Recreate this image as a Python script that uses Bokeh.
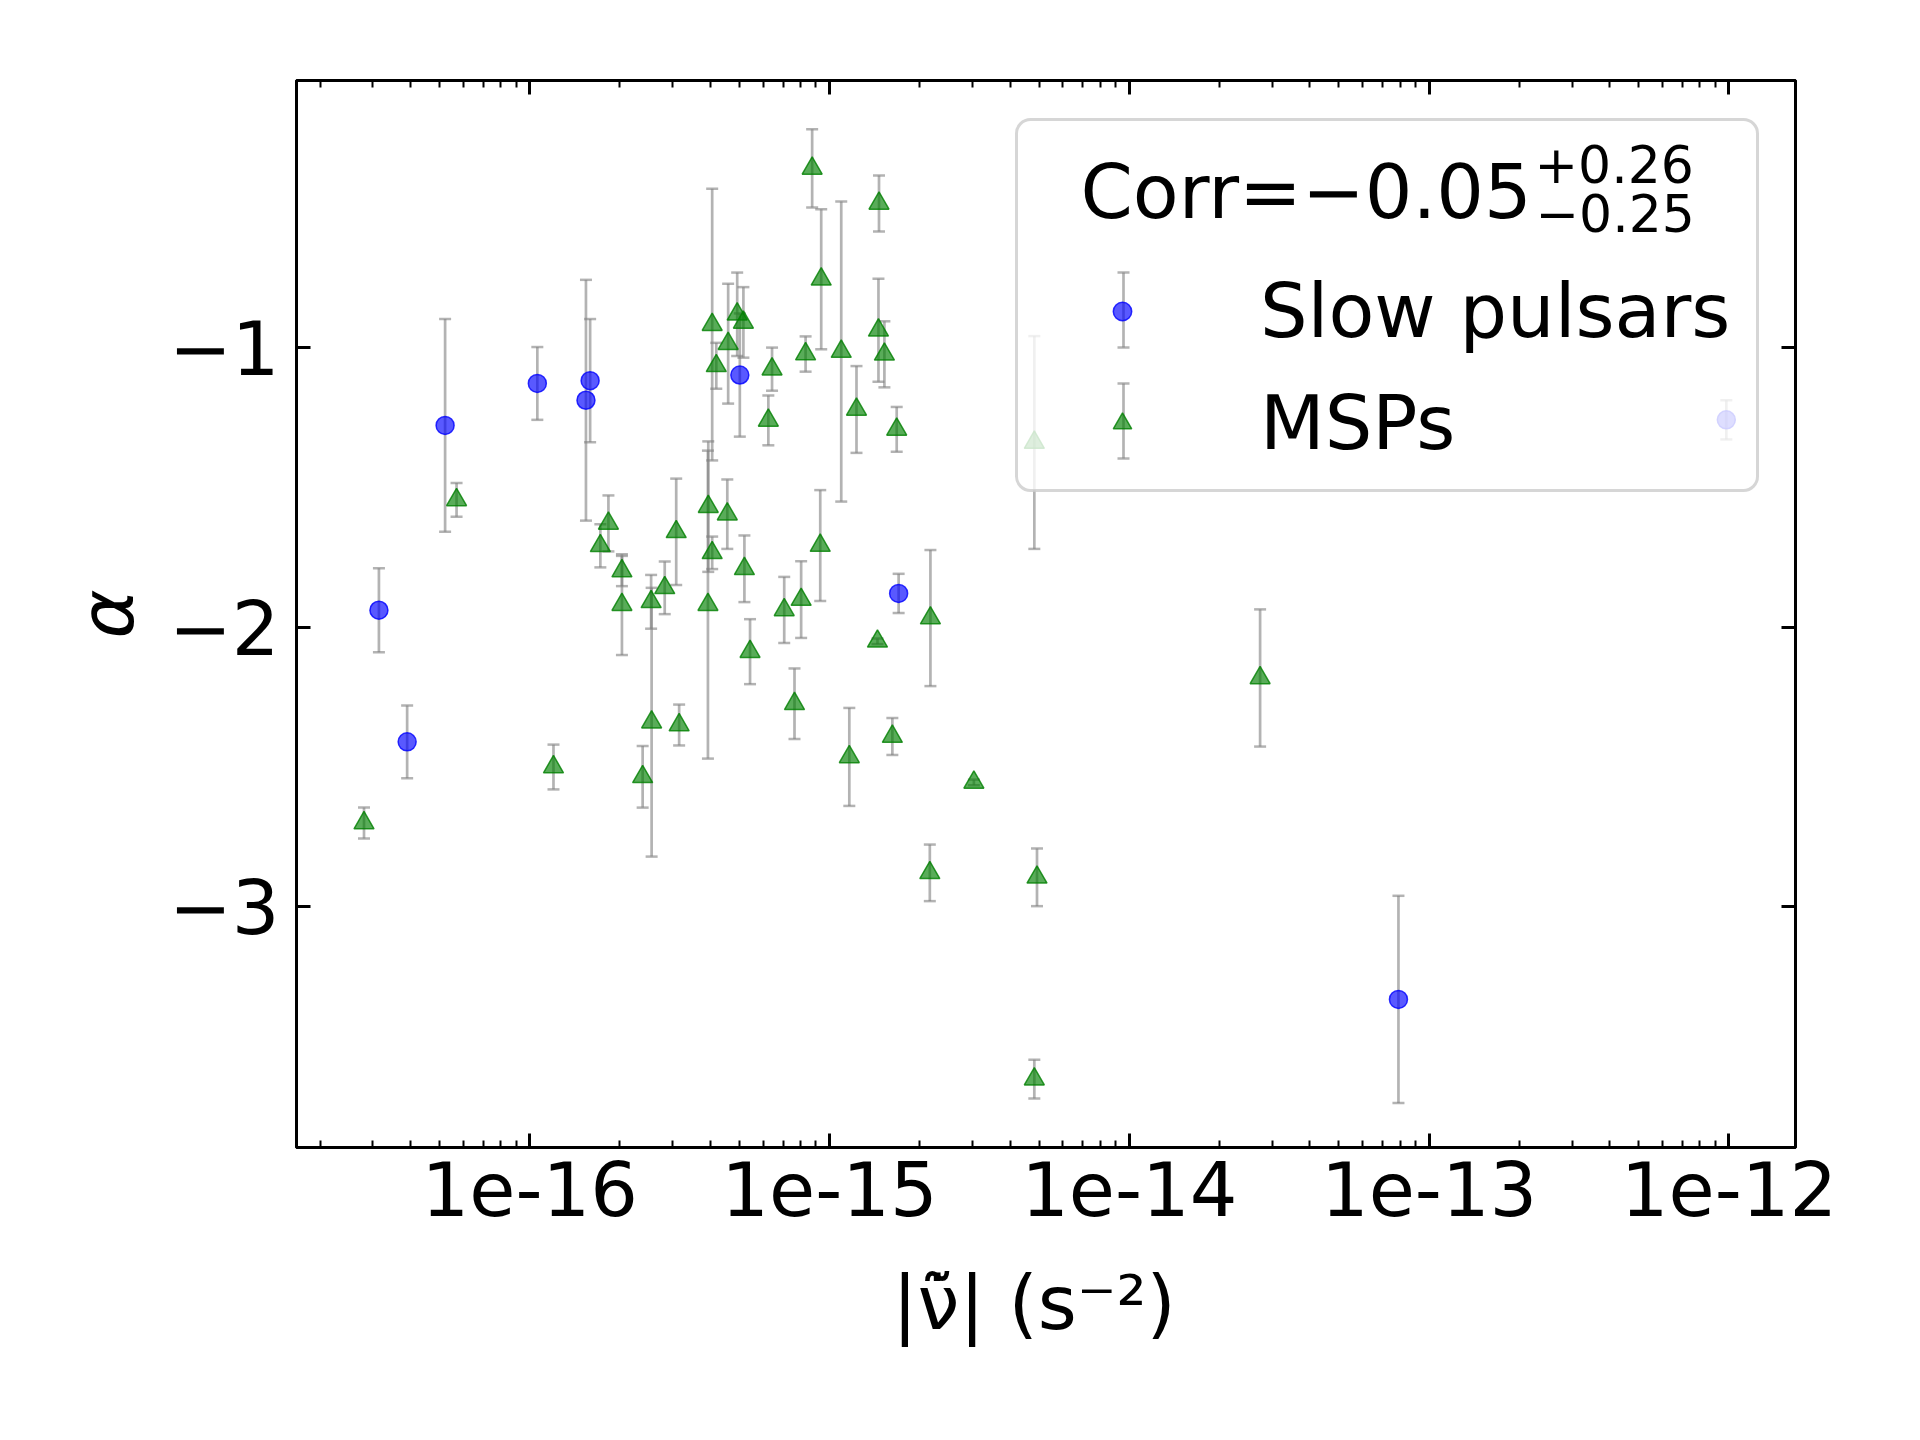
from bokeh.plotting import figure
from bokeh.models import (ColumnDataSource, Range1d, FixedTicker, CustomJSTickFormatter,
                          LogAxis, LinearAxis, Legend, LegendItem, Label, BoxAnnotation,
                          Whisker, TeeHead)
from bokeh.embed import file_html
from bokeh.resources import INLINE

# ---------------- data ----------------
slow_nuddot = [3.14e-17, 3.9e-17, 5.22e-17, 1.06e-16, 1.54e-16, 1.59e-16,
               5.02e-16, 1.70e-15, 7.9e-14, 9.8e-13]
slow_alpha = [-1.94, -2.41, -1.28, -1.13, -1.19, -1.12, -1.10, -1.88, -3.33, -1.26]
slow_err = [0.15, 0.13, 0.38, 0.13, 0.43, 0.22, 0.22, 0.07, 0.37, 0.07]

msp_nuddot = [2.80e-17, 5.70e-17, 1.20e-16, 1.72e-16, 1.83e-16, 2.03e-16, 2.03e-16,
              2.38e-16, 2.54e-16, 2.55e-16, 2.82e-16, 3.08e-16, 3.15e-16, 3.94e-16,
              3.93e-16, 4.06e-16, 4.06e-16, 4.19e-16, 4.59e-16, 4.56e-16, 4.92e-16,
              5.16e-16, 5.20e-16, 5.43e-16, 6.43e-16, 6.25e-16, 7.06e-16, 7.64e-16,
              8.04e-16, 8.32e-16, 8.75e-16, 9.38e-16, 9.31e-16, 1.094e-15, 1.164e-15,
              1.23e-15, 1.456e-15, 1.445e-15, 1.462e-15, 1.524e-15, 1.62e-15, 1.675e-15,
              2.17e-15, 2.16e-15, 3.03e-15, 4.82e-15, 4.92e-15, 4.82e-15, 2.73e-14]
msp_alpha = [-2.70, -1.546, -2.50, -1.71, -1.63, -1.80, -1.92,
             -2.535, -1.91, -2.34, -1.86, -1.66, -2.35, -1.57,
             -1.92, -0.92, -1.735, -1.067, -0.988, -1.597, -0.883,
             -0.912, -1.792, -2.088, -1.079, -1.262, -1.939, -2.274,
             -1.902, -1.025, -0.362, -0.758, -1.709, -1.016, -2.464,
             -1.223, -0.94, -2.051, -0.487, -1.026, -2.391, -1.294,
             -1.968, -2.878, -2.555, -1.341, -2.894, -3.615, -2.182]
msp_err = [0.055, 0.06, 0.08, 0.077, 0.10, 0.054, 0.18,
           0.11, 0.096, 0.48, 0.094, 0.19, 0.073, 0.233,
           0.55, 0.485, 0.058, 0.082, 0.214, 0.124, 0.149,
           0.126, 0.119, 0.116, 0.077, 0.089, 0.118, 0.126,
           0.137, 0.063, 0.14, 0.25, 0.198, 0.536, 0.175,
           0.155, 0.184, 0.01, 0.10, 0.118, 0.066, 0.08,
           0.243, 0.101, 0.01, 0.38, 0.103, 0.069, 0.245]

x_tick_values = [1e-16, 1e-15, 1e-14, 1e-13, 1e-12]
y_tick_values = [-3, -2, -1]
series_names = ["Slow pulsars", "MSPs"]
corr_text = "Corr=\u22120.05"
corr_plus = "+0.26"
corr_minus = "\u22120.25"
x_label = "|\u03bd\u0303\u0307|  (s\u207b\u00b2)"
y_label = "\u03b1"

# ---------------- layout / style ----------------
FONT = "DejaVu Sans"
FS = "75px"
W, H = 1920, 1440
BL, BR, BT, BB = 296, 125, 80, 293
FRAME_W, FRAME_H = W - BL - BR, H - BT - BB
X_LO, X_HI = 10 ** -16.778, 10 ** -11.778
Y_LO, Y_HI = -3.859, -0.048
ERR_COLOR, ERR_ALPHA, ERR_W = "gray", 0.6, 2.7
CAP = 12

p = figure(width=W, height=H, x_axis_type="log",
           x_range=Range1d(X_LO, X_HI), y_range=Range1d(Y_LO, Y_HI),
           output_backend="svg", toolbar_location=None,
           min_border_left=BL, min_border_right=BR, min_border_top=BT, min_border_bottom=BB)
p.xgrid.visible = False
p.ygrid.visible = False
p.outline_line_color = "black"
p.outline_line_width = 3
p.background_fill_color = "white"
p.border_fill_color = "white"

minor_x = [m * 10.0 ** e for e in range(-17, -11) for m in range(2, 10)]
xticker = FixedTicker(ticks=x_tick_values, minor_ticks=minor_x)
yticker = FixedTicker(ticks=y_tick_values, minor_ticks=[])
xfmt = CustomJSTickFormatter(code="return '1e' + Math.round(Math.log10(tick));")
yfmt = CustomJSTickFormatter(code="return tick < 0 ? '\u2212' + Math.abs(tick) : String(tick);")
blank = CustomJSTickFormatter(code="return '';")


def style(ax):
    ax.axis_line_color = "black"
    ax.axis_line_width = 3
    ax.major_tick_line_color = "black"
    ax.minor_tick_line_color = "black"
    ax.major_tick_in = 14
    ax.major_tick_out = 0
    ax.major_tick_line_width = 3
    ax.minor_tick_in = 7
    ax.minor_tick_out = 0
    ax.minor_tick_line_width = 2
    ax.major_label_text_font = FONT
    ax.major_label_text_font_size = FS
    ax.major_label_text_color = "black"
    ax.axis_label_text_font = FONT
    ax.axis_label_text_font_size = FS
    ax.axis_label_text_color = "black"
    ax.axis_label_text_font_style = "normal"


xa = p.xaxis[0]
style(xa)
xa.ticker = xticker
xa.formatter = xfmt
xa.major_label_standoff = 13
xa.axis_label = x_label
xa.axis_label_standoff = 40

ya = p.yaxis[0]
style(ya)
ya.ticker = yticker
ya.formatter = yfmt
ya.major_label_standoff = 17
ya.axis_label = y_label
ya.axis_label_text_font_style = "italic"
ya.axis_label_standoff = 15

top = LogAxis(ticker=xticker, formatter=blank)
style(top)
top.major_label_text_font_size = "0px"
top.major_label_standoff = 0
p.add_layout(top, "above")

right = LinearAxis(ticker=yticker, formatter=blank)
style(right)
right.major_label_text_font_size = "0px"
right.major_label_standoff = 0
p.add_layout(right, "right")

# ---------------- data marks ----------------
def draw_series(xs, ys, es, marker, color, size):
    src = ColumnDataSource(dict(x=xs, y=ys,
                                lo=[y - e for y, e in zip(ys, es)],
                                hi=[y + e for y, e in zip(ys, es)]))
    p.segment(x0="x", y0="lo", x1="x", y1="hi", source=src,
              line_color=ERR_COLOR, line_alpha=ERR_ALPHA, line_width=ERR_W)
    for end in ("lo", "hi"):
        p.scatter(x="x", y=end, source=src, marker="dash", size=CAP,
                  line_color=ERR_COLOR, line_alpha=ERR_ALPHA, line_width=2.5)
    r = p.scatter(x="x", y="y", source=src, marker=marker, size=size,
                  fill_color=color, fill_alpha=0.65, line_color=color,
                  line_alpha=0.8, line_width=1.5)
    return r


r_slow = draw_series(slow_nuddot, slow_alpha, slow_err, "circle", "blue", 18)
r_msp = draw_series(msp_nuddot, msp_alpha, msp_err, "triangle", "green", 20)

# ---------------- legend ----------------
LG_L, LG_R, LG_T, LG_B = 1016, 1757, 119, 490
PAD, GW, GH, LSO, SP, ROW = 26, 162, 46, 57, 24, 87

box = BoxAnnotation(left=LG_L, right=LG_R, top=LG_T, bottom=LG_B,
                    left_units="canvas", right_units="canvas",
                    top_units="canvas", bottom_units="canvas",
                    fill_color="white", fill_alpha=0.8,
                    line_color="#cccccc", line_alpha=0.8, line_width=3)
try:
    box.border_radius = 14
except Exception:
    pass
p.add_layout(box)

# legend key error bars
gx = LG_L + PAD + GW / 2
row2_c = LG_B - PAD - ROW / 2
row1_c = row2_c - ROW - SP
key_src = ColumnDataSource(dict(base=[gx, gx],
                                lower=[row1_c - 37.5, row2_c - 37.5],
                                upper=[row1_c + 37.5, row2_c + 37.5]))
wk = Whisker(base="base", lower="lower", upper="upper", source=key_src,
             base_units="canvas", lower_units="canvas", upper_units="canvas",
             dimension="height", line_color=ERR_COLOR, line_alpha=ERR_ALPHA, line_width=ERR_W,
             upper_head=TeeHead(size=CAP, line_color=ERR_COLOR, line_alpha=ERR_ALPHA, line_width=2.5),
             lower_head=TeeHead(size=CAP, line_color=ERR_COLOR, line_alpha=ERR_ALPHA, line_width=2.5))
wk.level = "annotation"
p.add_layout(wk)

legend = Legend(items=[LegendItem(label=series_names[0], renderers=[r_slow]),
                       LegendItem(label=series_names[1], renderers=[r_msp])],
                location=(LG_L - BL + 25, (BT + FRAME_H) - LG_B + 23),
                padding=PAD, glyph_width=GW, glyph_height=GH, label_standoff=LSO,
                spacing=SP, label_height=ROW, margin=0,
                label_text_font=FONT, label_text_font_size=FS, label_text_color="black",
                border_line_color=None, background_fill_alpha=0)
p.add_layout(legend)

p.add_layout(Label(x=1080, y=191, x_units="canvas", y_units="canvas", text=corr_text,
                   text_font=FONT, text_font_size=FS, text_color="black",
                   text_baseline="alphabetic"))
p.add_layout(Label(x=1534, y=163, x_units="canvas", y_units="canvas", text=corr_plus,
                   text_font=FONT, text_font_size="52px", text_color="black",
                   text_baseline="alphabetic"))
p.add_layout(Label(x=1535, y=212, x_units="canvas", y_units="canvas", text=corr_minus,
                   text_font=FONT, text_font_size="52px", text_color="black",
                   text_baseline="alphabetic"))

open("out.html", "w").write(file_html(p, INLINE))
